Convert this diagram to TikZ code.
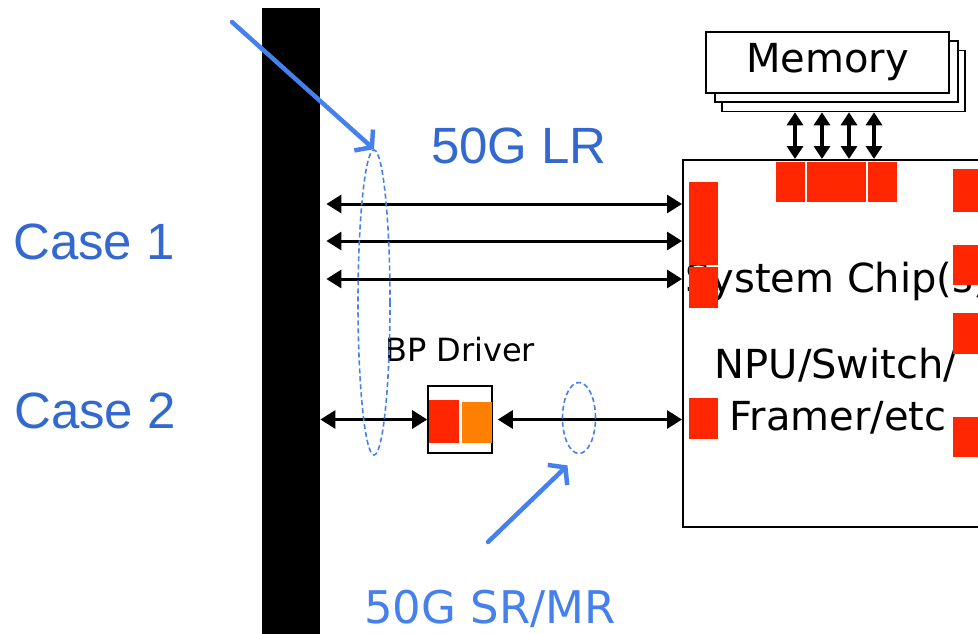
\documentclass[tikz,border=0pt]{standalone}
\usepackage{fontspec}
\usepackage{tikz}
\usetikzlibrary{positioning, arrows.meta, shapes.geometric}
\newfontfamily\casefont{Liberation Sans}
\newfontfamily\chipfont{DejaVu Sans}
\definecolor{caseblue}{RGB}{51,104,206}
\definecolor{linkblue}{RGB}{70,128,236}
\definecolor{padred}{RGB}{255,38,0}
\definecolor{padorange}{RGB}{255,128,0}
\tikzset{
  casetext/.style={text=caseblue, font=\casefont\fontsize{51}{51}\selectfont, inner sep=0},
  chiptext/.style={font=\chipfont\fontsize{40}{40}\selectfont, inner sep=0},
  boxline/.style={draw, line width=1.6pt},
  membox/.style={boxline, fill=white, minimum width=243pt, minimum height=61pt, inner sep=0},
  biarrow/.style={line width=3pt, {Triangle[length=15pt,width=18pt]}-{Triangle[length=15pt,width=18pt]}},
  memarrow/.style={line width=3.5pt, {Triangle[length=13pt,width=16pt]}-{Triangle[length=13pt,width=16pt]}},
  ring/.style={ellipse, draw=linkblue, line width=1.6pt, dash pattern=on 5pt off 3pt, inner sep=0},
  pointer/.style={draw=linkblue, line width=4.5pt, line cap=round, -{Straight Barb[length=11pt,width=28pt]}}
}

\begin{document}
\begin{tikzpicture}[x=1pt, y=-1pt]
\useasboundingbox (0,0) rectangle (978,633);
\clip (0,0) rectangle (978,633);
% backplane
\node[fill=black, inner sep=0, minimum width=58pt, minimum height=640pt, anchor=north west] (bp) at (262,8) {};
% system chip
\node[boxline, minimum width=330pt, minimum height=367pt, anchor=north west] (chip) at (682,159) {};
\node[chiptext, anchor=base west] (chipname) at (685,292) {System Chip(s)};
\node[chiptext, anchor=base] (npu) at (836,378) {NPU/Switch/};
\node[chiptext, anchor=base] (framer) at (838,430) {Framer/etc};
% pads
\foreach \xa/\ya/\xb/\yb in {776/162/805/202, 807/162/866/202, 868/162/897/202,
  689/182/718/265, 689/267/718/308, 689/398/718/439,
  953/169/990/212, 953/245/990/285, 953/313/990/354, 953/417/990/457}
  \fill[padred] (\xa,\ya) rectangle (\xb,\yb);
% memory stack
\node[membox] (mem3) at (843.5,81) {};
\node[membox] (mem2) at (836.5,71.5) {};
\node[membox, chiptext] (mem1) at (827.5,62.5) {Memory};
\foreach \x in {795,822,849,874}
  \draw[memarrow] (mem3.south -| \x,0) -- (chip.north -| \x,0);
% case 1
\foreach \y in {204,241,279}
  \draw[biarrow, shorten <=6pt] (bp.east |- 0,\y) -- (chip.west |- 0,\y);
% case 2
\node[boxline, minimum width=64pt, minimum height=67pt, inner sep=0] (drv) at (460,419.5) {};
\fill[padred] (429,400) rectangle (459,443);
\fill[padorange] (462,402) rectangle (492,443);
\node[chiptext, font=\chipfont\fontsize{32}{32}\selectfont, above=23pt of drv] (drvname) {BP Driver};
\draw[biarrow] (bp.east |- drv.west) -- (drv.west);
\draw[biarrow, shorten <=5pt] (drv.east) -- (chip.west |- drv.east);
% rings and labels
\node[ring, minimum width=32pt, minimum height=305pt] (lrring) at (374,302.5) {};
\node[ring, minimum width=33pt, minimum height=71pt] (srring) at (579,418) {};
\coordinate (lrtail) at (232,22);
\coordinate (srtail) at (488,542);
\draw[pointer] (lrtail) -- (lrring.north);
\draw[pointer, shorten >=16pt] (srtail) -- (srring.south);
\node[casetext, anchor=base] (lrname) at (519,163) {50G LR};
\node[chiptext, text=linkblue, font=\chipfont\fontsize{45}{45}\selectfont, anchor=base] (srname) at (490,623) {50G SR/MR};
\node[casetext, anchor=base west] (case1) at (13,259) {Case 1};
\node[casetext, anchor=base west] (case2) at (14,428) {Case 2};
\end{tikzpicture}
\end{document}
